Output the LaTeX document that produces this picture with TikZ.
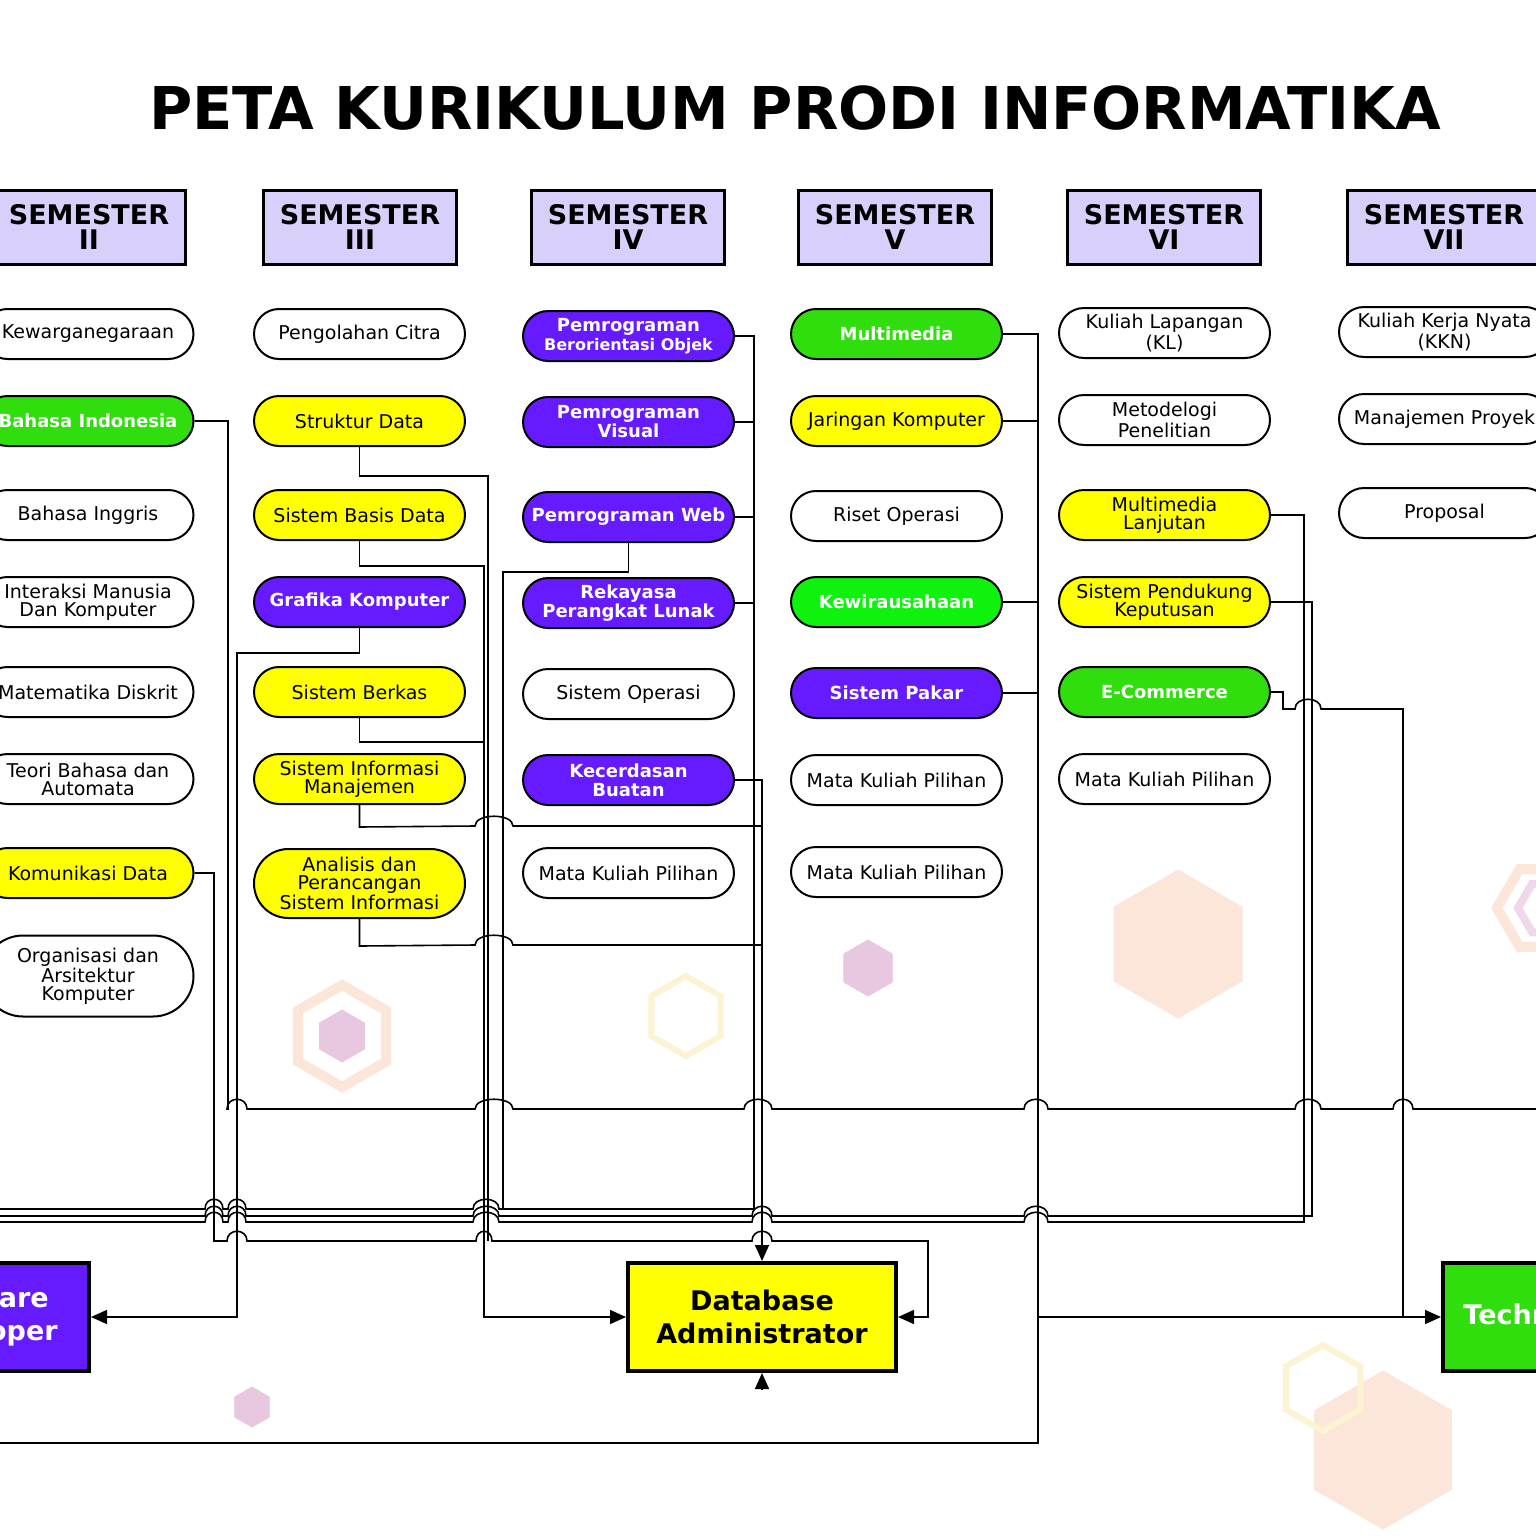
\documentclass[tikz,border=0pt]{standalone}
\usepackage{fontspec}
\setmainfont{DejaVu Sans}
\usetikzlibrary{positioning,arrows.meta,shapes.misc,calc}
\definecolor{cYel}{RGB}{255,255,0}
\definecolor{cPur}{RGB}{102,26,255}
\definecolor{cGrn}{RGB}{48,222,14}
\definecolor{cLime}{RGB}{14,242,14}
\definecolor{cSem}{RGB}{216,208,250}
\definecolor{cPink}{RGB}{232,200,224}
\definecolor{cPeach}{RGB}{252,230,218}
\definecolor{cCream}{RGB}{252,243,210}
% small bridge where a wire jumps over another one
\newcommand{\hop}[3]{-- ({#1-#3},#2) .. controls ({#1-#3},{#2-13}) and ({#1+#3},{#2-13}) .. ({#1+#3},#2)}
\newcommand{\hexa}[4]{\draw[#4] (#1,#2) +(90:#3) -- +(150:#3) -- +(210:#3) -- +(270:#3) -- +(330:#3) -- +(30:#3) -- cycle;}

\begin{document}
\begin{tikzpicture}[x=0.5pt,y=-0.5pt,
    wire/.style={line width=0.8pt},
    arr/.style={wire,-{Triangle[length=8pt,width=7pt]}},
    course/.style={rounded rectangle,draw,line width=1pt,fill=white,minimum width=107.5pt,minimum height=25pt,inner sep=1pt,align=center,font=\fontsize{9.5}{9}\selectfont},
    ylw/.style={course,fill=cYel},
    prp/.style={course,fill=cPur,text=white,font=\fontsize{9}{9.5}\selectfont\bfseries},
    grn/.style={prp,fill=cGrn},
    lime/.style={prp,fill=cLime},
    sem/.style={draw,fill=cSem,line width=1.5pt,minimum width=96.5pt,minimum height=37pt,inner sep=0pt,align=center,font=\fontsize{13.5}{12.5}\selectfont\bfseries},
    job/.style={draw,line width=2pt,minimum height=54pt,inner sep=0pt,align=center,font=\fontsize{13.5}{16.5}\selectfont\bfseries}]
  \useasboundingbox (0,0) rectangle (1536,1536);
  \clip (0,0) rectangle (1536,1536);
  \fill[white] (0,0) rectangle (1536,1536);

  % background hexagons
  \hexa{342}{1036}{51}{cPeach,line width=5pt}
  \hexa{342}{1036}{26}{cPink,fill=cPink}
  \hexa{686}{1016}{40}{cCream,line width=3pt}
  \hexa{868}{968}{28}{cPink,fill=cPink}
  \hexa{1178}{944}{74}{cPeach,fill=cPeach}
  \hexa{252}{1407}{20}{cPink,fill=cPink}
  \hexa{1383}{1450}{79}{cPeach,fill=cPeach}
  \hexa{1323}{1388}{43}{cCream,line width=3pt}
  \draw[cPeach,line width=5pt] (1542,908) +(0:45) -- +(60:45) -- +(120:45) -- +(180:45) -- +(240:45) -- +(300:45) -- cycle;
  \draw[cPink!70,line width=4pt] (1546,908) +(0:28) -- +(60:28) -- +(120:28) -- +(180:28) -- +(240:28) -- +(300:28) -- cycle;

  \node[font=\fontsize{29.5}{30}\selectfont\bfseries] (title) at (795,108) {PETA KURIKULUM PRODI INFORMATIKA};

  % semester headers
  \node[sem] (s2) at (89,227) {SEMESTER\\II};
  \node[sem] (s3) at (360,227) {SEMESTER\\III};
  \node[sem] (s4) at (628,227) {SEMESTER\\IV};
  \node[sem] (s5) at (895,227) {SEMESTER\\V};
  \node[sem] (s6) at (1164,227) {SEMESTER\\VI};
  \node[sem] (s7) at (1444,227) {SEMESTER\\VII};

  % semester II
  \node[course] (kwn) at (88,334) {Kewarganegaraan};
  \node[grn] (bind) at (88,421) {Bahasa Indonesia};
  \node[course] (bing) at (88,515) {Bahasa Inggris};
  \node[course] (imk) at (88,602) {Interaksi Manusia\\Dan Komputer};
  \node[course] (mtd) at (88,692) {Matematika Diskrit};
  \node[course] (tba) at (88,779) {Teori Bahasa dan\\Automata};
  \node[ylw] (kmd) at (88,873) {Komunikasi Data};
  \node[course,minimum height=40.5pt] (oak) at (88,976) {Organisasi dan\\Arsitektur\\Komputer};

  % semester III
  \node[course] (pcit) at (359.5,334) {Pengolahan Citra};
  \node[ylw] (sdat) at (359.5,421) {Struktur Data};
  \node[ylw] (sbd) at (359.5,515) {Sistem Basis Data};
  \node[prp] (grk) at (359.5,602) {Grafika Komputer};
  \node[ylw] (sbk) at (359.5,692) {Sistem Berkas};
  \node[ylw] (sim) at (359.5,779) {Sistem Informasi\\Manajemen};
  \node[ylw,minimum height=34.5pt] (apsi) at (359.5,883.5) {Analisis dan\\Perancangan\\Sistem Informasi};

  % semester IV
  \node[prp] (pbo) at (628.5,336) {Pemrograman\\\fontsize{8}{9}\selectfont Berorientasi Objek};
  \node[prp] (pvis) at (628.5,422) {Pemrograman\\Visual};
  \node[prp] (pweb) at (628.5,517) {Pemrograman Web};
  \node[prp] (rpl) at (628.5,603) {Rekayasa\\Perangkat Lunak};
  \node[course] (sop) at (628.5,694) {Sistem Operasi};
  \node[prp] (kcb) at (628.5,780) {Kecerdasan\\Buatan};
  \node[course] (mkpa) at (628.5,873) {Mata Kuliah Pilihan};

  % semester V
  \node[grn] (mmd) at (896.5,334) {Multimedia};
  \node[ylw] (jkm) at (896.5,421) {Jaringan Komputer};
  \node[course] (rop) at (896.5,516) {Riset Operasi};
  \node[lime] (kwu) at (896.5,602) {Kewirausahaan};
  \node[prp] (spak) at (896.5,693) {Sistem Pakar};
  \node[course] (mkpb) at (896.5,780) {Mata Kuliah Pilihan};
  \node[course] (mkpc) at (896.5,872) {Mata Kuliah Pilihan};

  % semester VI
  \node[course] (kln) at (1164.5,333) {Kuliah Lapangan\\(KL)};
  \node[course] (mtp) at (1164.5,420) {Metodelogi\\Penelitian};
  \node[ylw] (mml) at (1164.5,515) {Multimedia\\Lanjutan};
  \node[ylw] (spkp) at (1164.5,602) {Sistem Pendukung\\Keputusan};
  \node[grn] (ecom) at (1164.5,692) {E-Commerce};
  \node[course] (mkpd) at (1164.5,779) {Mata Kuliah Pilihan};

  % semester VII
  \node[course] (kkn) at (1444.5,332) {Kuliah Kerja Nyata\\(KKN)};
  \node[course] (mpro) at (1444.5,419) {Manajemen Proyek};
  \node[course] (prop) at (1444.5,513) {Proposal};

  % careers
  \node[job,fill=cPur,text=white,minimum width=109pt] (swdev) at (-20,1317) {Software\\Developer};
  \node[job,fill=cYel,minimum width=134pt] (dba) at (762,1317) {Database\\Administrator};
  \node[job,fill=cGrn,text=white,minimum width=134pt] (tech) at (1577,1317) {Technopreneur};

  \coordinate (busIV) at (754,1209);
  \coordinate (busV) at (1038,1443);
  \coordinate (outR) at (1560,1109);
  \coordinate (outB) at (-20,1443);
  \coordinate (inA) at (-20,1209);
  \coordinate (inB) at (-20,1216);
  \coordinate (inC) at (-20,1222);
  \coordinate (dbaB) at (762,1390);

  % wires
  \draw[wire] (bind.east) -| (228,1109) \hop{237}{1109}{10} \hop{494}{1109}{19} \hop{758}{1109}{14} \hop{1036}{1109}{12} \hop{1308}{1109}{13} \hop{1403}{1109}{10} -- (outR);
  \draw[arr] (kmd.east) -| (214,1241) \hop{237}{1241}{10} \hop{484}{1241}{8} \hop{762}{1241}{10} -- (928,1241) |- (dba.east);
  \draw[arr] (grk.south) |- (237,653) |- (swdev.east);
  \draw[wire] (sdat.south) |- (488,476) -- (488,1241);
  \draw[arr] (sbd.south) |- (484,566) |- (dba.west);
  \draw[wire] (sbk.south) |- (484,742);
  \draw[wire] (sim.south) -- ++(0,22) \hop{494}{826}{19} -- (762,826);
  \draw[wire] (apsi.south) -- ++(0,27) \hop{494}{945}{19} -- (762,945);
  \draw[arr] (kcb.east) -| (dba.north);
  \draw[arr] (dbaB) -- (dba.south);

  \draw[wire] (pbo.east) -| (busIV);
  \draw[wire] (pvis.east) -- (pvis.east -| busIV);
  \draw[wire] (pweb.east) -- (pweb.east -| busIV);
  \draw[wire] (rpl.east) -- (rpl.east -| busIV);
  \draw[wire] (pweb.south) |- (503,572) -- (503,1209);
  \draw[wire] (inA) \hop{214}{1209}{9} \hop{237}{1209}{9} \hop{486}{1209}{13} -- (busIV);

  \draw[wire] (inB) \hop{214}{1216}{9} \hop{237}{1216}{9} \hop{486}{1216}{13} \hop{762}{1216}{10} \hop{1036}{1216}{12} -- (1312,1216) |- (spkp.east);
  \draw[wire] (inC) \hop{214}{1222}{9} \hop{237}{1222}{9} \hop{486}{1222}{13} \hop{762}{1222}{10} \hop{1036}{1222}{12} -- (1304,1222) |- (mml.east);

  \draw[wire] (mmd.east) -| (busV) -- (outB);
  \draw[wire] (jkm.east) -- (jkm.east -| busV);
  \draw[wire] (kwu.east) -- (kwu.east -| busV);
  \draw[wire] (spak.east) -- (spak.east -| busV);
  \draw[wire] (busV |- tech.west) -- (1403,1317);
  \draw[arr] (ecom.east) -- ++(12,0) -- ++(0,17) \hop{1308}{709}{13} -- (1403,709) |- (tech.west);
\end{tikzpicture}
\end{document}
